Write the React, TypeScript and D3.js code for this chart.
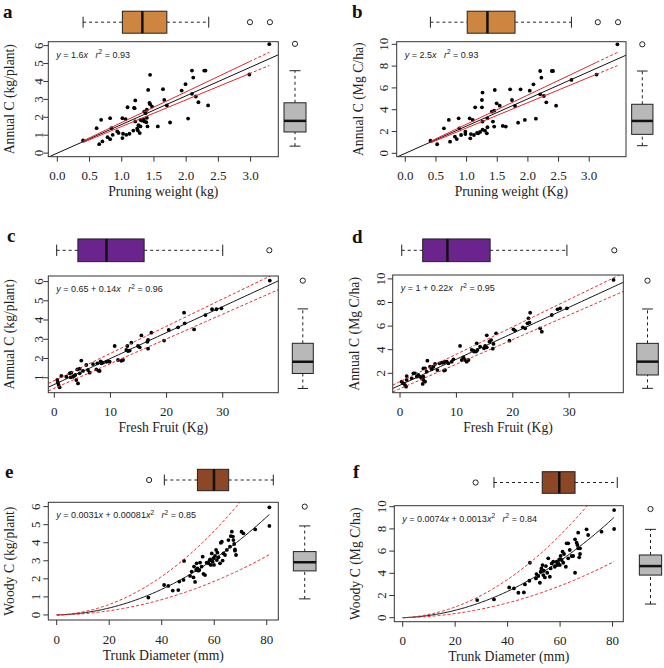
import React from 'react';
import * as d3 from 'd3';

// a: pruning weight (kg) vs annual C (kg/plant)
const aX = [0.40, 0.65, 0.61, 0.68, 0.70, 0.78, 0.82, 0.82, 0.84, 0.86, 0.93, 0.95, 1.01, 1.01, 1.02, 1.06, 1.07, 1.09, 1.12, 1.18, 1.19, 1.20, 1.21, 1.21, 1.24, 1.25, 1.26, 1.28, 1.29, 1.29, 1.31, 1.34, 1.35, 1.35, 1.37, 1.38, 1.39, 1.39, 1.40, 1.41, 1.43, 1.44, 1.44, 1.47, 1.56, 1.64, 1.66, 1.70, 1.75, 1.93, 1.99, 2.03, 2.09, 2.11, 2.09, 2.15, 2.19, 2.28, 2.30, 2.34, 2.98, 3.29];
const aY = [0.71, 0.50, 1.39, 1.86, 0.65, 0.89, 0.78, 1.95, 1.39, 1.02, 1.21, 1.13, 1.95, 0.84, 1.08, 1.90, 1.02, 2.56, 1.08, 1.26, 2.53, 2.51, 2.94, 1.77, 1.38, 1.26, 1.56, 1.12, 1.86, 1.49, 1.82, 1.88, 2.32, 1.77, 2.23, 1.73, 2.42, 1.97, 1.49, 3.53, 2.81, 4.37, 2.73, 2.60, 1.49, 3.57, 2.97, 2.66, 1.71, 3.49, 3.85, 1.93, 4.61, 4.22, 3.31, 3.16, 2.84, 4.61, 4.61, 2.66, 4.39, 6.08];
const aTopBox = [0.40, 1.01, 1.32, 1.70, 2.35];
const aTopOut = [2.99, 3.30];
const aSideBox = [0.39, 1.18, 1.80, 2.81, 4.6];
const aSideOut = [6.1];

// b: pruning weight (Kg) vs annual C (Mg C/ha)
const bX = [0.41, 0.52, 0.63, 0.71, 0.73, 0.81, 0.84, 0.87, 0.88, 0.91, 0.98, 0.98, 1.05, 1.06, 1.07, 1.10, 1.12, 1.14, 1.17, 1.19, 1.22, 1.25, 1.25, 1.26, 1.26, 1.26, 1.30, 1.33, 1.34, 1.34, 1.41, 1.43, 1.45, 1.46, 1.49, 1.45, 1.54, 1.59, 1.64, 1.71, 1.74, 1.79, 1.84, 1.88, 1.95, 2.03, 2.09, 2.13, 2.20, 2.22, 2.20, 2.26, 2.30, 2.39, 2.41, 2.46, 2.71, 3.12, 3.46];
const bY = [1.16, 0.83, 2.29, 3.06, 1.07, 1.53, 1.31, 3.21, 2.29, 1.68, 1.99, 1.77, 3.21, 1.38, 1.77, 3.06, 1.68, 4.22, 1.87, 1.83, 1.96, 4.22, 4.89, 5.57, 2.91, 2.17, 2.08, 1.83, 3.21, 2.39, 3.82, 2.91, 3.91, 5.81, 4.59, 2.45, 4.37, 2.51, 2.45, 5.87, 4.89, 4.34, 2.81, 5.87, 3.06, 5.75, 6.33, 3.18, 7.55, 6.94, 5.41, 5.26, 4.68, 7.55, 7.55, 4.37, 6.73, 7.22, 10.0];
const bTopBox = [0.41, 1.01, 1.34, 1.79, 2.71];
const bTopOut = [3.14, 3.47];
const bSideBox = [0.70, 1.74, 2.97, 4.5, 7.55];
const bSideOut = [10.0];

// c: fresh fruit (Kg) vs annual C (kg/plant)
const cX = [0.53, 0.77, 0.95, 0.65, 1.25, 2.14, 2.73, 2.91, 3.03, 3.33, 3.51, 3.74, 3.92, 4.22, 4.10, 4.52, 4.52, 4.81, 5.11, 5.70, 6.0, 6.30, 6.89, 7.49, 7.66, 7.90, 8.08, 8.26, 8.38, 8.67, 9.27, 9.57, 9.86, 10.75, 11.35, 11.94, 12.24, 12.83, 13.01, 13.13, 13.43, 13.73, 14.91, 15.21, 15.51, 16.58, 16.70, 16.70, 17.29, 19.55, 20.38, 22.04, 23.11, 23.23, 24.90, 26.92, 28.1, 28.88, 29.77, 38.38];
const cY = [0.88, 0.62, 0.50, 0.74, 1.09, 1.05, 1.23, 1.02, 1.26, 1.05, 1.09, 1.14, 0.88, 0.70, 1.43, 1.47, 1.23, 1.89, 1.35, 1.66, 1.40, 1.26, 1.71, 1.43, 1.75, 1.36, 1.35, 1.85, 1.75, 1.78, 1.83, 1.85, 1.83, 2.65, 1.92, 1.88, 1.92, 2.44, 2.65, 2.39, 2.41, 2.82, 2.65, 2.58, 3.20, 2.87, 2.96, 2.51, 3.34, 2.93, 3.48, 3.62, 4.38, 3.83, 3.51, 4.26, 4.56, 4.56, 4.61, 6.05];
const cTopBox = [0.42, 4.2, 9.3, 16.0, 30.0];
const cTopOut = [38.3];
const cSideBox = [0.44, 1.22, 1.83, 2.79, 4.58];
const cSideOut = [6.05];

// d: fresh fruit (Kg) vs annual C (Mg C/ha)
const dX = [0.59, 0.89, 1.18, 0.30, 1.07, 1.18, 2.07, 2.37, 2.66, 2.96, 3.25, 3.55, 3.85, 4.14, 4.14, 4.44, 4.02, 4.85, 4.44, 4.14, 5.33, 5.62, 4.73, 5.92, 6.21, 6.63, 6.98, 7.40, 7.69, 7.99, 8.28, 8.58, 9.17, 7.81, 7.99, 9.47, 10.65, 10.95, 11.54, 11.83, 12.13, 11.24, 12.72, 13.02, 13.14, 13.49, 13.73, 13.61, 14.2, 14.91, 15.09, 15.38, 15.38, 15.86, 16.15, 16.45, 16.57, 17.04, 19.41, 20.12, 20.41, 21.78, 22.19, 22.6, 22.78, 23.08, 22.96, 24.85, 25.15, 26.92, 27.93, 28.4, 29.59, 37.87];
const dY = [1.15, 1.01, 1.44, 1.29, 0.87, 1.77, 1.58, 2.0, 2.0, 1.72, 1.86, 1.72, 1.58, 1.72, 1.44, 1.29, 1.10, 3.07, 2.42, 2.42, 2.56, 2.34, 2.14, 2.56, 2.79, 2.28, 2.85, 2.90, 2.90, 2.99, 2.99, 2.85, 2.99, 2.23, 2.28, 3.19, 4.32, 3.13, 3.13, 2.99, 3.13, 3.36, 3.98, 3.92, 3.84, 3.84, 3.98, 4.54, 4.26, 4.12, 4.32, 4.2, 5.22, 4.68, 4.82, 4.09, 4.49, 5.39, 4.77, 5.73, 5.62, 5.90, 5.81, 6.24, 6.66, 7.14, 6.29, 5.81, 5.53, 6.94, 7.42, 7.51, 7.51, 9.91];
const dTopBox = [0.30, 4.02, 8.40, 15.98, 29.6];
const dTopOut = [38.0];
const dSideBox = [0.73, 1.86, 2.99, 4.54, 7.45];
const dSideOut = [9.85];

// e: trunk diameter (mm) vs woody C (kg/plant)
const eX = [34.9, 40.9, 42.5, 44.2, 46.3, 46.7, 48.3, 48.5, 50.8, 51.4, 52.1, 52.3, 52.7, 53.1, 53.3, 53.6, 53.97, 54.3, 54.6, 55.2, 55.6, 55.9, 56.5, 57.1, 57.8, 58.2, 58.4, 58.7, 59.05, 59.4, 59.7, 59.9, 60.3, 60.7, 61.0, 61.2, 61.6, 62.2, 62.5, 62.9, 63.2, 63.5, 64.1, 64.8, 65.4, 66.0, 66.3, 66.7, 67.1, 67.3, 67.6, 67.9, 68.3, 67.9, 70.4, 71.1, 75.6, 81.0, 81.0];
const eY = [0.96, 1.66, 1.61, 1.35, 1.38, 1.85, 1.94, 2.99, 2.16, 2.40, 2.08, 2.68, 1.83, 2.49, 2.86, 2.58, 2.45, 2.49, 2.90, 2.68, 3.23, 2.27, 2.21, 2.90, 2.86, 3.01, 3.08, 2.77, 3.41, 2.95, 3.14, 2.77, 3.27, 3.60, 3.04, 3.45, 3.19, 2.86, 4.0, 4.06, 3.01, 3.41, 3.32, 3.60, 4.15, 3.78, 4.37, 4.61, 4.34, 4.15, 3.93, 3.56, 3.32, 3.63, 4.61, 4.52, 4.74, 5.96, 4.93];
const eTopBox = [41.0, 53.6, 59.9, 65.5, 82.5];
const eTopOut = [35.2];
const eSideBox = [0.89, 2.44, 2.92, 3.51, 4.93];
const eSideOut = [6.0];

// f: trunk diameter (mm) vs woody C (Mg C/ha)
const fX = [28.4, 34.8, 40.6, 42.4, 44.1, 46.2, 46.6, 48.3, 48.5, 50.8, 51.0, 51.7, 52.3, 52.6, 52.9, 53.3, 53.6, 53.8, 54.2, 54.6, 55.1, 55.5, 56.1, 56.4, 56.8, 57.4, 58.0, 58.7, 58.9, 59.3, 59.7, 59.9, 60.2, 60.6, 61.2, 60.95, 61.5, 62.2, 62.5, 63.1, 63.1, 63.7, 64.4, 65.0, 65.7, 65.7, 66.3, 66.9, 66.6, 66.9, 67.6, 67.6, 67.3, 70.1, 70.7, 75.8, 80.6, 80.6];
const fY = [1.59, 1.65, 2.73, 2.64, 2.25, 2.28, 3.0, 3.33, 4.95, 3.54, 3.93, 3.75, 3.15, 4.14, 4.44, 4.74, 3.84, 4.23, 3.63, 4.65, 4.05, 5.35, 3.69, 4.44, 4.89, 5.04, 4.59, 5.04, 4.74, 4.89, 5.26, 4.74, 5.56, 5.20, 4.95, 5.95, 5.74, 4.59, 6.70, 6.70, 5.35, 6.10, 5.56, 5.56, 4.05, 7.06, 6.76, 7.66, 6.55, 6.25, 6.25, 5.74, 5.44, 7.96, 7.45, 7.75, 9.70, 7.99];
const fTopBox = [34.8, 53.2, 59.7, 65.7, 81.8];
const fTopOut = [27.8];
const fSideBox = [1.23, 3.84, 4.65, 5.65, 7.96];
const fSideOut = [9.79];

// tick labels
const pruneTicks = [0, 0.5, 1, 1.5, 2, 2.5, 3];
const fruitTicks = [0, 10, 20, 30];
const trunkTicks = [0, 20, 40, 60, 80];
const kgTicks = [0, 1, 2, 3, 4, 5, 6];
const kgTicksC = [1, 2, 3, 4, 5, 6];
const mgTicks = [0, 2, 4, 6, 8, 10];
const mgTicksD = [2, 4, 6, 8, 10];

// fitted coefficients
const aFit = [1.6];
const bFit = [2.5];
const cFit = [0.65, 0.135];
const dFit = [1, 0.22];
const eFit = [0.0031, 0.00081];
const fFit = [0.0074, 0.0013];

const SERIF = '"Liberation Serif", "Times New Roman", serif';
const SANS = '"Liberation Sans", Arial, sans-serif';
const RED = '#e3262b';

type Seg = [string, string];

function Eq({ x, y, segs }: { x: number; y: number; segs: Seg[] }) {
  const out: any[] = [];
  let up = false;
  segs.forEach((s, i) => {
    const sup = s[1] === 's';
    let dy = 0;
    if (sup && !up) { dy = -3.5; up = true; }
    else if (!sup && up) { dy = 3.5; up = false; }
    out.push(
      <tspan key={i} dy={dy || undefined} fontStyle={s[1] === 'i' ? 'italic' : 'normal'}
        fontSize={sup ? 6.5 : 9}>{s[0]}</tspan>
    );
  });
  return <text x={x} y={y} fontFamily={SANS} fontSize={9} fill="#222" xmlSpace="preserve">{out}</text>;
}

function Panel(c: any) {
  const [x0, y0, x1, y1] = c.rect;
  const x = d3.scaleLinear().domain(c.xDom).range([x0, x1]);
  const y = d3.scaleLinear().domain(c.yDom).range([y1, y0]);
  const line = d3.line<number[]>().x(d => x(d[0])).y(d => y(d[1]));
  const clipId = 'clip-' + c.letter;
  const xs: number[] = c.xs;
  const ys: number[] = c.ys;
  const sorted = [...xs].sort((p, q) => p - q);
  const xmin = sorted[0], xmax = sorted[sorted.length - 1], x2nd = sorted[sorted.length - 2];

  let lines: any[] = [];
  if (c.kind === 'origin') {
    const b = c.fit[0];
    const k = c.k;
    const f = (v: number) => b * v;
    lines.push(<path key="fit" d={line([[c.xDom[0], f(c.xDom[0])], [c.xDom[1], f(c.xDom[1])]])!} stroke="#111" strokeWidth={1} fill="none" />);
    [1 + k, 1 - k].forEach((m, i) => {
      const g = (v: number) => b * m * v;
      lines.push(<path key={'s' + i} d={line([[xmin, g(xmin)], [x2nd, g(x2nd)]])!} stroke={RED} strokeWidth={1} fill="none" />);
      lines.push(<path key={'d' + i} d={line([[x2nd, g(x2nd)], [xmax, g(xmax)]])!} stroke={RED} strokeWidth={1} strokeDasharray="3,2" fill="none" />);
    });
  } else if (c.kind === 'linear') {
    const [a, b] = c.fit;
    const [h0, h1] = c.h;
    const f = (v: number) => a + b * v;
    const grid = d3.range(c.xDom[0], c.xDom[1] + 0.5, 0.5);
    lines.push(<path key="fit" d={line(grid.map(v => [v, f(v)]))!} stroke="#111" strokeWidth={1} fill="none" />);
    [1, -1].forEach((s, i) => {
      lines.push(<path key={'d' + i} d={line(grid.map(v => [v, f(v) + s * (h0 + h1 * v)]))!} stroke={RED} strokeWidth={1} strokeDasharray="3,2" fill="none" />);
    });
  } else {
    const [b1, b2] = c.fit;
    const f = (v: number) => b1 * v + b2 * v * v;
    const grid = d3.range(0, xmax + 0.01, 0.5);
    lines.push(<path key="fit" d={line(grid.map(v => [v, f(v)]))!} stroke="#111" strokeWidth={1} fill="none" />);
    c.m.forEach((m: number, i: number) => {
      lines.push(<path key={'d' + i} d={line(grid.map(v => [v, f(v) * m]))!} stroke={RED} strokeWidth={1} strokeDasharray="3,2" fill="none" />);
    });
  }

  // top (horizontal) boxplot
  const [tlo, tq1, tmed, tq3, thi] = c.topBox;
  const cy = c.topY, th = c.topH;
  // side (vertical) boxplot
  const [slo, sq1, smed, sq3, shi] = c.sideBox;
  const cx = c.sideX, sw = c.sideW;

  return (
    <g>
      <defs>
        <clipPath id={clipId}><rect x={x0} y={y0} width={x1 - x0} height={y1 - y0} /></clipPath>
      </defs>
      <text x={c.lx} y={c.ly} fontFamily={SERIF} fontWeight="bold" fontSize={19} fill="#111">{c.letter}</text>

      {/* top boxplot */}
      <g stroke="#222" strokeWidth={1}>
        <line x1={x(tlo)} x2={x(tq1)} y1={cy} y2={cy} strokeDasharray="3,3" />
        <line x1={x(tq3)} x2={x(thi)} y1={cy} y2={cy} strokeDasharray="3,3" />
        <line x1={x(tlo)} x2={x(tlo)} y1={cy - th / 4} y2={cy + th / 4} />
        <line x1={x(thi)} x2={x(thi)} y1={cy - th / 4} y2={cy + th / 4} />
        <rect x={x(tq1)} y={cy - th / 2} width={x(tq3) - x(tq1)} height={th} fill={c.fill} />
        <line x1={x(tmed)} x2={x(tmed)} y1={cy - th / 2} y2={cy + th / 2} strokeWidth={2.5} stroke="#111" />
        {c.topOut.map((o: number, i: number) => <circle key={i} cx={x(o)} cy={cy} r={2.6} fill="none" />)}
      </g>

      {/* side boxplot */}
      <g stroke="#222" strokeWidth={1}>
        <line x1={cx} x2={cx} y1={y(slo)} y2={y(sq1)} strokeDasharray="3,3" />
        <line x1={cx} x2={cx} y1={y(sq3)} y2={y(shi)} strokeDasharray="3,3" />
        <line x1={cx - sw / 4} x2={cx + sw / 4} y1={y(slo)} y2={y(slo)} />
        <line x1={cx - sw / 4} x2={cx + sw / 4} y1={y(shi)} y2={y(shi)} />
        <rect x={cx - sw / 2} y={y(sq3)} width={sw} height={y(sq1) - y(sq3)} fill="#b8b8b8" />
        <line x1={cx - sw / 2} x2={cx + sw / 2} y1={y(smed)} y2={y(smed)} strokeWidth={2.5} stroke="#111" />
        {c.sideOut.map((o: number, i: number) => <circle key={i} cx={cx} cy={y(o)} r={2.6} fill="none" />)}
      </g>

      {/* plot */}
      <g clipPath={`url(#${clipId})`}>
        {xs.map((v, i) => <circle key={i} cx={x(v)} cy={y(ys[i])} r={1.9} fill="#000" />)}
        {lines}
      </g>
      <rect x={x0} y={y0} width={x1 - x0} height={y1 - y0} fill="none" stroke="#333" strokeWidth={1} />
      <Eq x={x0 + 8} y={y0 + 16} segs={c.eq} />

      {/* x axis */}
      {c.xTicks.map((t: number) => (
        <g key={'x' + t}>
          <line x1={x(t)} x2={x(t)} y1={y1} y2={y1 + 5} stroke="#333" />
          <text x={x(t)} y={y1 + 23.5} textAnchor="middle" fontFamily={SERIF} fontSize={13} fill="#222">{c.xFmt(t)}</text>
        </g>
      ))}
      <text x={(x0 + x1) / 2} y={y1 + 39.5} textAnchor="middle" fontFamily={SERIF} fontSize={13.7} fill="#222">{c.xTitle}</text>

      {/* y axis */}
      {c.yTicks.map((t: number) => (
        <g key={'y' + t}>
          <line x1={x0 - 5} x2={x0} y1={y(t)} y2={y(t)} stroke="#333" />
          <text transform={`translate(${x0 - c.ytOff},${y(t)}) rotate(-90)`} textAnchor="middle" fontFamily={SERIF} fontSize={13} fill="#222">{t}</text>
        </g>
      ))}
      <text transform={`translate(${x0 - 34},${(y0 + y1) / 2}) rotate(-90)`} textAnchor="middle" fontFamily={SERIF} fontSize={13.7} fill="#222">{c.yTitle}</text>
    </g>
  );
}

const f1 = (t: number) => t.toFixed(1);
const f0 = (t: number) => String(t);

export default function App() {
  const panels = [
    {
      letter: 'a', lx: 3, ly: 18, rect: [48.3, 41.7, 278.3, 156.7], xDom: [-0.14, 3.43], yDom: [-0.2, 6.22],
      xs: aX, ys: aY, kind: 'origin', fit: aFit, k: 0.07, xTicks: pruneTicks, xFmt: f1, yTicks: kgTicks, ytOff: 5,
      topBox: aTopBox, topOut: aTopOut, topY: 22.2, topH: 22, sideBox: aSideBox, sideOut: aSideOut, sideX: 295, sideW: 22,
      fill: '#CD853F', xTitle: 'Pruning weight (kg)', yTitle: 'Annual C (kg/plant)',
      eq: [['y', 'i'], [' = 1.6', ''], ['x', 'i'], ['   ', ''], ['r', 'i'], ['2', 's'], [' = 0.93', '']],
    },
    {
      letter: 'b', lx: 352, ly: 18, rect: [396.7, 41.7, 626, 156.7], xDom: [-0.14, 3.6], yDom: [-0.31, 10.24],
      xs: bX, ys: bY, kind: 'origin', fit: bFit, k: 0.07, xTicks: pruneTicks, xFmt: f1, yTicks: mgTicks, ytOff: 9,
      topBox: bTopBox, topOut: bTopOut, topY: 22.2, topH: 22, sideBox: bSideBox, sideOut: bSideOut, sideX: 642.3, sideW: 21.3,
      fill: '#CD853F', xTitle: 'Pruning weight (Kg)', yTitle: 'Annual C (Mg C/ha)',
      eq: [['y', 'i'], [' = 2.5', ''], ['x', 'i'], ['   ', ''], ['r', 'i'], ['2', 's'], [' = 0.93', '']],
    },
    {
      letter: 'c', lx: 7, ly: 242, rect: [48.3, 276, 278.3, 392.7], xDom: [-1.07, 39.9], yDom: [0.22, 6.29],
      xs: cX, ys: cY, kind: 'linear', fit: cFit, h: [0.2, 0.0065], xTicks: fruitTicks, xFmt: f0, yTicks: kgTicksC, ytOff: 5,
      topBox: cTopBox, topOut: cTopOut, topY: 250.3, topH: 22.7, sideBox: cSideBox, sideOut: cSideOut, sideX: 302.8, sideW: 21,
      fill: '#6B238E', xTitle: 'Fresh Fruit (Kg)', yTitle: 'Annual C (kg/plant)',
      eq: [['y', 'i'], [' = 0.65 + 0.14', ''], ['x', 'i'], ['   ', ''], ['r', 'i'], ['2', 's'], [' = 0.96', '']],
    },
    {
      letter: 'd', lx: 352, ly: 243, rect: [392.7, 275, 623.3, 392.7], xDom: [-1.3, 39.6], yDom: [0.36, 10.33],
      xs: dX, ys: dY, kind: 'linear', fit: dFit, h: [0.3, 0.012], xTicks: fruitTicks, xFmt: f0, yTicks: mgTicksD, ytOff: 8,
      topBox: dTopBox, topOut: dTopOut, topY: 250.3, topH: 22.7, sideBox: dSideBox, sideOut: dSideOut, sideX: 647.5, sideW: 21.6,
      fill: '#6B238E', xTitle: 'Fresh Fruit (Kg)', yTitle: 'Annual C (Mg C/ha)',
      eq: [['y', 'i'], [' = 1 + 0.22', ''], ['x', 'i'], ['   ', ''], ['r', 'i'], ['2', 's'], [' = 0.95', '']],
    },
    {
      letter: 'e', lx: 5, ly: 478, rect: [48.3, 502.3, 278.3, 620], xDom: [-3.2, 84.4], yDom: [-0.28, 6.24],
      xs: eX, ys: eY, kind: 'quad', fit: eFit, m: [1.5, 0.6], xTicks: trunkTicks, xFmt: f0, yTicks: kgTicks, ytOff: 8,
      topBox: eTopBox, topOut: eTopOut, topY: 480, topH: 21.4, sideBox: eSideBox, sideOut: eSideOut, sideX: 304.7, sideW: 22.7,
      fill: '#8B4726', xTitle: 'Trunk Diameter (mm)', yTitle: 'Woody C (kg/plant)',
      eq: [['y', 'i'], [' = 0.0031', ''], ['x', 'i'], [' + 0.00081', ''], ['x', 'i'], ['2', 's'], ['   ', ''], ['r', 'i'], ['2', 's'], [' = 0.85', '']],
    },
    {
      letter: 'f', lx: 353, ly: 478, rect: [394.3, 505.7, 623.3, 621.7], xDom: [-3.2, 84.1], yDom: [-0.36, 10.09],
      xs: fX, ys: fY, kind: 'quad', fit: fFit, m: [1.45, 0.56], xTicks: trunkTicks, xFmt: f0, yTicks: mgTicks, ytOff: 8,
      topBox: fTopBox, topOut: fTopOut, topY: 482.5, topH: 21.6, sideBox: fSideBox, sideOut: fSideOut, sideX: 650.5, sideW: 22.3,
      fill: '#8B4726', xTitle: 'Trunk Diameter (mm)', yTitle: 'Woody C (Mg C/ha)',
      eq: [['y', 'i'], [' = 0.0074', ''], ['x', 'i'], [' + 0.0013', ''], ['x', 'i'], ['2', 's'], ['   ', ''], ['r', 'i'], ['2', 's'], [' = 0.84', '']],
    },
  ];
  return (
    <svg width={664} height={668} style={{ position: 'absolute', left: 0, top: 0, background: '#fff' }}>
      <rect width={664} height={668} fill="#fff" />
      {panels.map(p => <Panel key={p.letter} {...p} />)}
    </svg>
  );
}
